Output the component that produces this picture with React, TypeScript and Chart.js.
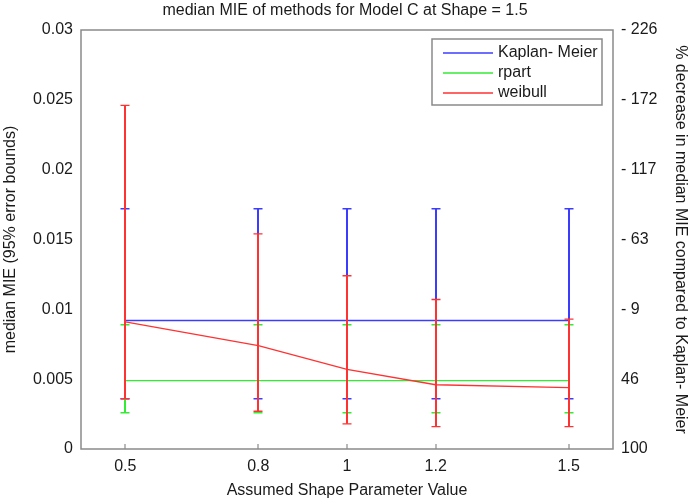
import React, { useEffect, useRef } from "react";
import { Chart, registerables } from "chart.js";

Chart.register(...registerables);

const titleText = "median MIE of methods for Model C at Shape = 1.5";
const xAxisTitle = "Assumed Shape Parameter Value";
const yAxisTitle = "median MIE (95% error bounds)";
const y2AxisTitle = "% decrease in median MIE compared to Kaplan- Meier";

const xValues = [0.5, 0.8, 1, 1.2, 1.5];
const xTickLabels = ["0.5", "0.8", "1", "1.2", "1.5"];
const yTickValues = [0, 0.005, 0.01, 0.015, 0.02, 0.025, 0.03];
const leftTickLabels = ["0", "0.005", "0.01", "0.015", "0.02", "0.025", "0.03"];
const rightTickLabels = ["100", "46", "- 9", "- 63", "- 117", "- 172", "- 226"];

const seriesNames = ["Kaplan- Meier", "rpart", "weibull"];
const seriesColors = ["rgb(60,60,255)", "rgb(50,235,50)", "rgb(255,50,50)"];

const kmMedian = [0.0092, 0.0092, 0.0092, 0.0092, 0.0092];
const kmLow = [0.0036, 0.0036, 0.0036, 0.0036, 0.0036];
const kmHigh = [0.0172, 0.0172, 0.0172, 0.0172, 0.0172];

const rpartMedian = [0.0049, 0.0049, 0.0049, 0.0049, 0.0049];
const rpartLow = [0.0026, 0.0026, 0.0026, 0.0026, 0.0026];
const rpartHigh = [0.0089, 0.0089, 0.0089, 0.0089, 0.0089];

const weibullMedian = [0.0091, 0.0074, 0.0057, 0.0046, 0.0044];
const weibullLow = [0.0036, 0.0027, 0.0018, 0.0016, 0.0016];
const weibullHigh = [0.0246, 0.0154, 0.0124, 0.0107, 0.0093];

const medians = [kmMedian, rpartMedian, weibullMedian];
const lows = [kmLow, rpartLow, weibullLow];
const highs = [kmHigh, rpartHigh, weibullHigh];

const FONT = "'Liberation Sans', Arial, Helvetica, sans-serif";
const TEXT = "#1a1a1a";
const FRAME = "#8a8a8a";
const LW = 1.3;

const errorBarPlugin = {
  id: "errorBars",
  beforeDatasetDraw(chart: any, args: any) {
    const i = args.index;
    const ctx = chart.ctx;
    const xs = chart.scales.x;
    const ys = chart.scales.y;
    ctx.save();
    ctx.strokeStyle = seriesColors[i];
    xValues.forEach((xv, k) => {
      const px = Math.round(xs.getPixelForValue(xv));
      const pl = ys.getPixelForValue(lows[i][k]);
      const ph = ys.getPixelForValue(highs[i][k]);
      ctx.lineWidth = 2;
      ctx.beginPath();
      ctx.moveTo(px, pl);
      ctx.lineTo(px, ph);
      ctx.stroke();
      ctx.lineWidth = 1.4;
      ctx.beginPath();
      ctx.moveTo(px - 4.5, pl);
      ctx.lineTo(px + 4.5, pl);
      ctx.moveTo(px - 4.5, ph);
      ctx.lineTo(px + 4.5, ph);
      ctx.stroke();
    });
    ctx.restore();
  },
  afterDraw(chart: any) {
    const ctx = chart.ctx;
    const a = chart.chartArea;
    const xs = chart.scales.x;
    ctx.save();
    // frame
    ctx.strokeStyle = FRAME;
    ctx.lineWidth = 1.5;
    ctx.strokeRect(a.left, a.top, a.right - a.left, a.bottom - a.top);
    // x tick marks (inward)
    ctx.lineWidth = 1.2;
    xValues.forEach((xv) => {
      const px = Math.round(xs.getPixelForValue(xv));
      ctx.beginPath();
      ctx.moveTo(px, a.bottom);
      ctx.lineTo(px, a.bottom - 5);
      ctx.stroke();
    });
    // legend
    const bx = 432, by = 39, bw = 170, bh = 66;
    ctx.fillStyle = "#ffffff";
    ctx.fillRect(bx, by, bw, bh);
    ctx.strokeStyle = FRAME;
    ctx.lineWidth = 1.5;
    ctx.strokeRect(bx, by, bw, bh);
    ctx.font = `16px ${FONT}`;
    ctx.textBaseline = "middle";
    ctx.textAlign = "left";
    seriesNames.forEach((name, i) => {
      const y = by + 14 + i * 20;
      ctx.strokeStyle = seriesColors[i];
      ctx.lineWidth = LW;
      ctx.beginPath();
      ctx.moveTo(bx + 11, y);
      ctx.lineTo(bx + 61, y);
      ctx.stroke();
      ctx.fillStyle = TEXT;
      ctx.fillText(name, bx + 66, y);
    });
    ctx.restore();
  },
};

export default function App() {
  const ref = useRef<HTMLCanvasElement | null>(null);
  useEffect(() => {
    document.body.style.margin = "0";
    const canvas = ref.current;
    if (!canvas) return;
    const chart = new Chart(canvas, {
      type: "line",
      data: {
        datasets: seriesNames.map((name, i) => ({
          label: name,
          data: xValues.map((x, k) => ({ x, y: medians[i][k] })),
          borderColor: seriesColors[i],
          backgroundColor: seriesColors[i],
          borderWidth: LW,
          pointRadius: 0,
          tension: 0,
          fill: false,
          order: 3 - i,
        })),
      },
      options: {
        responsive: false,
        devicePixelRatio: 1,
        animation: false,
        layout: { padding: 0 },
        plugins: {
          legend: { display: false },
          tooltip: { enabled: false },
          title: {
            display: true,
            text: titleText,
            color: TEXT,
            font: { family: FONT, size: 16, weight: "normal" },
            padding: { top: 1.4, bottom: 9.4 },
          },
        },
        scales: {
          x: {
            type: "linear",
            min: 0.4,
            max: 1.6,
            afterBuildTicks: (scale: any) => {
              scale.ticks = xValues.map((v) => ({ value: v }));
            },
            afterFit: (scale: any) => {
              scale.height = 54;
            },
            ticks: {
              color: TEXT,
              font: { family: FONT, size: 16 },
              padding: 8,
              maxRotation: 0,
              autoSkip: false,
              callback: (_v: any, idx: number) => xTickLabels[idx],
            },
            grid: { display: false, drawTicks: false },
            border: { display: false },
            title: {
              display: true,
              text: xAxisTitle,
              color: TEXT,
              font: { family: FONT, size: 16 },
              padding: { top: 0, bottom: 3 },
            },
          },
          y: {
            type: "linear",
            position: "left",
            min: 0,
            max: 0.03,
            afterBuildTicks: (scale: any) => {
              scale.ticks = yTickValues.map((v) => ({ value: v }));
            },
            afterFit: (scale: any) => {
              scale.width = 81;
            },
            ticks: {
              color: TEXT,
              font: { family: FONT, size: 16 },
              padding: 8,
              autoSkip: false,
              callback: (_v: any, idx: number) => leftTickLabels[idx],
            },
            grid: { display: false, drawTicks: false },
            border: { display: false },
            title: {
              display: true,
              text: yAxisTitle,
              color: TEXT,
              font: { family: FONT, size: 16 },
              padding: { top: 1, bottom: 0 },
            },
          },
          y2: {
            type: "linear",
            position: "right",
            min: 0,
            max: 0.03,
            afterBuildTicks: (scale: any) => {
              scale.ticks = yTickValues.map((v) => ({ value: v }));
            },
            afterFit: (scale: any) => {
              scale.width = 77;
            },
            ticks: {
              color: TEXT,
              font: { family: FONT, size: 16 },
              padding: 8,
              autoSkip: false,
              callback: (_v: any, idx: number) => rightTickLabels[idx],
            },
            grid: { display: false, drawTicks: false },
            border: { display: false },
            title: {
              display: true,
              text: y2AxisTitle,
              color: TEXT,
              font: { family: FONT, size: 16 },
              padding: { top: 0, bottom: 0 },
            },
          },
        },
      } as any,
      plugins: [errorBarPlugin],
    });
    return () => chart.destroy();
  }, []);
  return <canvas ref={ref} width={690} height={503} style={{ display: "block" }} />;
}
